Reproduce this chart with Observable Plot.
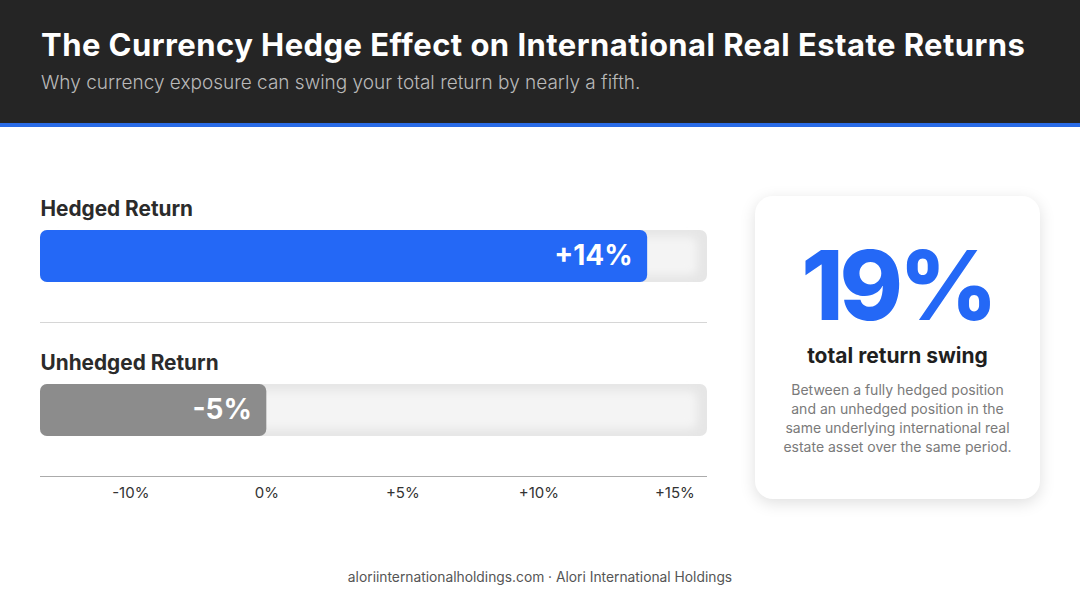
<!DOCTYPE html>
<html>
<head>
<meta charset="utf-8">
<script src="https://cdn.jsdelivr.net/npm/d3@7"></script>
<script src="https://cdn.jsdelivr.net/npm/@observablehq/plot@0.6"></script>
<style>
  html, body { margin: 0; padding: 0; }
  body { width: 1080px; height: 603px; position: relative; overflow: hidden; background: #ffffff; font-family: Inter, "Noto Sans", sans-serif; }
  #header { position: absolute; left: 0; top: 0; width: 1080px; height: 123px; background: #252525; border-bottom: 4px solid #2a6be6; }
  #title { position: absolute; left: 41px; top: 26px; color: #ffffff; font-weight: 700; font-size: 31px; white-space: nowrap; letter-spacing: 0.45px; }
  #subtitle { position: absolute; left: 41px; top: 71px; color: #b9b9b9; font-weight: 300; font-size: 19px; white-space: nowrap; }
  #chart { position: absolute; left: 0; top: 185px; }
  #card { position: absolute; left: 755px; top: 196px; width: 285px; height: 303px; background: #fff; border-radius: 18px; box-shadow: 0 4px 16px rgba(0,0,0,0.13); text-align: center; }
  #big { position: absolute; left: 0; width: 285px; top: 41px; color: #2468f6; font-weight: 800; font-size: 96px; line-height: 1; letter-spacing: -4px; }
  #swing { position: absolute; left: 0; width: 285px; top: 147px; color: #1f1f1f; font-weight: 700; font-size: 21px; }
  #desc { position: absolute; left: 0; width: 285px; top: 184px; color: #7a7a7a; font-size: 14px; line-height: 19px; }
  #footer { position: absolute; left: 0; width: 1080px; top: 569px; text-align: center; color: #555; font-size: 13.8px; }
</style>
</head>
<body>
<div id="header">
  <div id="title">The Currency Hedge Effect on International Real Estate Returns</div>
  <div id="subtitle">Why currency exposure can swing your total return by nearly a fifth.</div>
</div>
<div id="chart"></div>
<div id="card">
  <div id="swing">total return swing</div>
  <div id="desc">Between a fully hedged position<br>and an unhedged position in the<br>same underlying international real<br>estate asset over the same period.</div>
</div>
<div id="footer">aloriinternationalholdings.com · Alori International Holdings</div>
<script>
// ---- data ----
const categories = ["Hedged Return", "Unhedged Return"];
const returns = [14, -5];                 // percent
const valueLabels = ["+14%", "-5%"];
const barColors = ["#2468f6", "#8c8c8c"];
const tickValues = [-5, 0, 5, 10, 15];
const tickLabels = ["-10%", "0%", "+5%", "+10%", "+15%"];
const xMin = -8.32, xMax = 16.2;

const rows = categories.map((c, i) => ({category: c, value: returns[i], label: valueLabels[i], color: barColors[i]}));
// negative returns are shown as a muted bar that reaches the 0% line
const fillEnd = d => Math.max(d.value, 0);

// big swing number
const swing = returns[0] - returns[1];
const big = document.createElement("div");
big.id = "big";
big.textContent = swing + "%";
document.getElementById("card").appendChild(big);

const chart = Plot.plot({
  width: 740,
  height: 328,
  marginLeft: 40,
  marginRight: 33,
  marginTop: 0,
  marginBottom: 20,
  style: {fontFamily: "Inter, 'Noto Sans', sans-serif", overflow: "visible", background: "transparent"},
  x: {domain: [xMin, xMax], axis: null},
  y: {domain: categories, padding: 0, axis: null},
  marks: [
    // track
    Plot.barX(rows, {x1: () => xMin, x2: () => xMax, y: "category", fill: "#e6e6e6", rx: 7, insetTop: 45, insetBottom: 57}),
    Plot.barX(rows, {x1: () => xMin, x2: () => xMax, y: "category", fill: "#f4f4f4", rx: 7, insetTop: 52, insetBottom: 64, insetLeft: 8, insetRight: 10}),
    // value bar
    Plot.barX(rows, {x1: () => xMin, x2: fillEnd, y: "category", fill: "color", rx: 7, insetTop: 45, insetBottom: 57}),
    // value labels inside bars
    Plot.text(rows, {x: fillEnd, y: "category", text: "label", textAnchor: "end", dx: -15, dy: -6, fill: "#ffffff", fontSize: 28, fontWeight: 700}),
    // category labels
    Plot.text(rows, {x: () => xMin, y: "category", text: "category", textAnchor: "start", dy: -53, fill: "#2b2b2b", fontSize: 20.8, fontWeight: 700}),
    // separators / axis line
    Plot.ruleY(rows, {y: "category", x1: () => xMin, x2: () => xMax, dy: 60, stroke: (d, i) => i === 0 ? "#d6d6d6" : "#ababab", strokeWidth: 1.2}),
    // tick labels
    Plot.text(tickValues, {x: d => d, text: (d, i) => tickLabels[i], frameAnchor: "bottom", lineAnchor: "middle", dy: 0, fill: "#333333", fontSize: 15, fontWeight: 400})
  ]
});

// soften the inner highlight of the tracks
const ns = "http://www.w3.org/2000/svg";
const defs = document.createElementNS(ns, "defs");
defs.innerHTML = '<filter id="soft" x="-5%" y="-50%" width="110%" height="200%"><feGaussianBlur stdDeviation="4"/></filter>';
chart.insertBefore(defs, chart.firstChild);
const barGroups = chart.querySelectorAll("g[aria-label='bar']");
if (barGroups[1]) barGroups[1].setAttribute("filter", "url(#soft)");

document.getElementById("chart").appendChild(chart);
</script>
</body>
</html>
